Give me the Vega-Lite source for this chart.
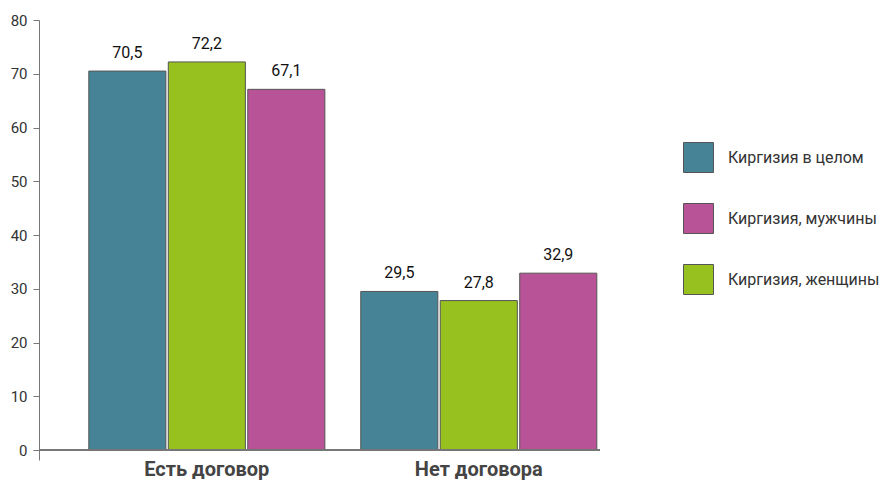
{
  "$schema": "https://vega.github.io/schema/vega-lite/v6.json",
  "width": 561,
  "height": 440,
  "autosize": {"type": "none"},
  "padding": {"left": 39, "top": 20, "right": 288, "bottom": 22},
  "background": "white",
  "config": {
    "view": {"stroke": null},
    "font": "Roboto",
    "locale": {"number": {"decimal": ",", "thousands": " ", "grouping": [3], "currency": ["", ""]}}
  },
  "data": {
    "values": [
      {"group": "Есть договор", "series": "Киргизия в целом", "value": 70.5},
      {"group": "Есть договор", "series": "Киргизия, женщины", "value": 72.2},
      {"group": "Есть договор", "series": "Киргизия, мужчины", "value": 67.1},
      {"group": "Нет договора", "series": "Киргизия в целом", "value": 29.5},
      {"group": "Нет договора", "series": "Киргизия, женщины", "value": 27.8},
      {"group": "Нет договора", "series": "Киргизия, мужчины", "value": 32.9}
    ]
  },
  "encoding": {
    "x": {
      "field": "group", "type": "nominal",
      "scale": {"paddingInner": 0.132, "paddingOuter": 0.0974, "align": 0.94},
      "axis": {"title": null, "domain": false, "ticks": false, "labelAngle": 0, "labelFontSize": 20, "labelFontWeight": "bold", "labelColor": "#444", "labelPadding": -1, "labelBaseline": "top", "labelFont": "Roboto"}
    },
    "xOffset": {
      "field": "series", "type": "nominal",
      "scale": {"domain": ["Киргизия в целом", "Киргизия, женщины", "Киргизия, мужчины"], "paddingInner": 0.03}
    },
    "y": {
      "field": "value", "type": "quantitative",
      "scale": {"domain": [-1.86, 80], "nice": false, "zero": false},
      "axis": {"title": null, "values": [0, 10, 20, 30, 40, 50, 60, 70, 80], "grid": false, "domainColor": "#777", "tickColor": "#777", "tickSize": 6, "labelFontSize": 15, "labelColor": "#333", "labelPadding": 6}
    }
  },
  "layer": [
    {
      "mark": {"type": "bar", "stroke": "#555", "strokeWidth": 1},
      "encoding": {
        "y": {"field": "value", "type": "quantitative"},
        "y2": {"datum": 0},
        "color": {
          "field": "series", "type": "nominal",
          "scale": {"domain": ["Киргизия в целом", "Киргизия, мужчины", "Киргизия, женщины"], "range": ["#478396", "#b75396", "#96c11e"]},
          "legend": {"title": null, "orient": "none", "legendX": 644, "legendY": 122, "symbolType": "square", "symbolSize": 900, "symbolStrokeColor": "#555", "symbolStrokeWidth": 1, "symbolOpacity": 1, "labelFontSize": 16, "labelColor": "#333", "labelOffset": 14, "rowPadding": 26, "labelLimit": 300}
        }
      }
    },
    {
      "mark": {"type": "text", "dy": -10, "fontSize": 16, "color": "#111", "baseline": "bottom"},
      "encoding": {
        "text": {"field": "value", "type": "quantitative", "format": ".1f"}
      }
    },
    {
      "mark": {"type": "rule", "color": "#777", "strokeWidth": 1},
      "encoding": {"y": {"datum": 0}, "x": null, "xOffset": null}
    }
  ]
}
